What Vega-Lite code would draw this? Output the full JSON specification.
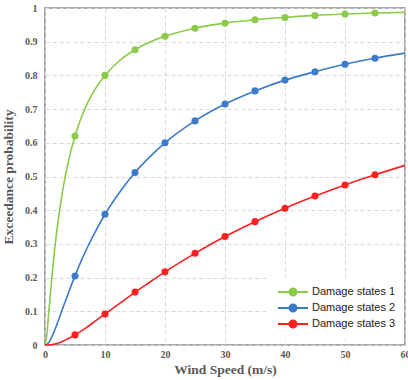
{
  "$schema": "https://vega.github.io/schema/vega-lite/v6.json",
  "width": 360,
  "height": 337,
  "autosize": {"type": "none"},
  "padding": {"left": 45, "top": 8, "right": 3, "bottom": 35},
  "background": "white",
  "config": {
    "view": {"stroke": "#8c8c8c", "strokeWidth": 1.5},
    "axis": {
      "labelFont": "Liberation Serif",
      "labelFontWeight": "bold",
      "labelColor": "#595959",
      "labelFontSize": 10,
      "titleFont": "Liberation Serif",
      "titleFontWeight": "bold",
      "titleColor": "#595959",
      "titleFontSize": 13.5,
      "grid": true,
      "gridDash": [4, 3],
      "gridColor": "#d9d9d9",
      "domain": false,
      "ticks": false
    }
  },
  "data": {
    "values": [
      {"ws": 0, "p": 0, "s": "Damage states 1"},
      {"ws": 0.25, "p": 0.022, "s": "Damage states 1"},
      {"ws": 0.5, "p": 0.07, "s": "Damage states 1"},
      {"ws": 1, "p": 0.173, "s": "Damage states 1"},
      {"ws": 1.5, "p": 0.265, "s": "Damage states 1"},
      {"ws": 2, "p": 0.343, "s": "Damage states 1"},
      {"ws": 3, "p": 0.464, "s": "Damage states 1"},
      {"ws": 4, "p": 0.553, "s": "Damage states 1"},
      {"ws": 5, "p": 0.62, "s": "Damage states 1"},
      {"ws": 6, "p": 0.673, "s": "Damage states 1"},
      {"ws": 7, "p": 0.715, "s": "Damage states 1"},
      {"ws": 8, "p": 0.749, "s": "Damage states 1"},
      {"ws": 10, "p": 0.8, "s": "Damage states 1"},
      {"ws": 12.5, "p": 0.845, "s": "Damage states 1"},
      {"ws": 15, "p": 0.876, "s": "Damage states 1"},
      {"ws": 17.5, "p": 0.899, "s": "Damage states 1"},
      {"ws": 20, "p": 0.916, "s": "Damage states 1"},
      {"ws": 25, "p": 0.94, "s": "Damage states 1"},
      {"ws": 30, "p": 0.955, "s": "Damage states 1"},
      {"ws": 35, "p": 0.965, "s": "Damage states 1"},
      {"ws": 40, "p": 0.972, "s": "Damage states 1"},
      {"ws": 45, "p": 0.978, "s": "Damage states 1"},
      {"ws": 50, "p": 0.982, "s": "Damage states 1"},
      {"ws": 55, "p": 0.985, "s": "Damage states 1"},
      {"ws": 60, "p": 0.987, "s": "Damage states 1"},
      {"ws": 0, "p": 0, "s": "Damage states 2"},
      {"ws": 0.5, "p": 0.0045, "s": "Damage states 2"},
      {"ws": 1, "p": 0.019, "s": "Damage states 2"},
      {"ws": 1.5, "p": 0.039, "s": "Damage states 2"},
      {"ws": 2, "p": 0.062, "s": "Damage states 2"},
      {"ws": 3, "p": 0.111, "s": "Damage states 2"},
      {"ws": 4, "p": 0.159, "s": "Damage states 2"},
      {"ws": 5, "p": 0.205, "s": "Damage states 2"},
      {"ws": 6, "p": 0.248, "s": "Damage states 2"},
      {"ws": 7, "p": 0.287, "s": "Damage states 2"},
      {"ws": 8, "p": 0.323, "s": "Damage states 2"},
      {"ws": 10, "p": 0.388, "s": "Damage states 2"},
      {"ws": 12.5, "p": 0.455, "s": "Damage states 2"},
      {"ws": 15, "p": 0.512, "s": "Damage states 2"},
      {"ws": 17.5, "p": 0.559, "s": "Damage states 2"},
      {"ws": 20, "p": 0.6, "s": "Damage states 2"},
      {"ws": 25, "p": 0.665, "s": "Damage states 2"},
      {"ws": 30, "p": 0.715, "s": "Damage states 2"},
      {"ws": 35, "p": 0.754, "s": "Damage states 2"},
      {"ws": 40, "p": 0.786, "s": "Damage states 2"},
      {"ws": 45, "p": 0.811, "s": "Damage states 2"},
      {"ws": 50, "p": 0.833, "s": "Damage states 2"},
      {"ws": 55, "p": 0.851, "s": "Damage states 2"},
      {"ws": 60, "p": 0.866, "s": "Damage states 2"},
      {"ws": 0, "p": 0, "s": "Damage states 3"},
      {"ws": 1, "p": 0.0008, "s": "Damage states 3"},
      {"ws": 2, "p": 0.0046, "s": "Damage states 3"},
      {"ws": 3, "p": 0.011, "s": "Damage states 3"},
      {"ws": 4, "p": 0.02, "s": "Damage states 3"},
      {"ws": 5, "p": 0.03, "s": "Damage states 3"},
      {"ws": 6, "p": 0.041, "s": "Damage states 3"},
      {"ws": 7, "p": 0.053, "s": "Damage states 3"},
      {"ws": 8, "p": 0.066, "s": "Damage states 3"},
      {"ws": 10, "p": 0.092, "s": "Damage states 3"},
      {"ws": 12.5, "p": 0.124, "s": "Damage states 3"},
      {"ws": 15, "p": 0.157, "s": "Damage states 3"},
      {"ws": 17.5, "p": 0.187, "s": "Damage states 3"},
      {"ws": 20, "p": 0.217, "s": "Damage states 3"},
      {"ws": 25, "p": 0.272, "s": "Damage states 3"},
      {"ws": 30, "p": 0.322, "s": "Damage states 3"},
      {"ws": 35, "p": 0.366, "s": "Damage states 3"},
      {"ws": 40, "p": 0.406, "s": "Damage states 3"},
      {"ws": 45, "p": 0.442, "s": "Damage states 3"},
      {"ws": 50, "p": 0.475, "s": "Damage states 3"},
      {"ws": 55, "p": 0.505, "s": "Damage states 3"},
      {"ws": 60, "p": 0.533, "s": "Damage states 3"}
    ]
  },
  "encoding": {
    "x": {
      "field": "ws", "type": "quantitative",
      "scale": {"domain": [0, 60], "nice": false},
      "axis": {"values": [0, 10, 20, 30, 40, 50, 60], "format": "d", "title": "Wind Speed (m/s)", "labelPadding": 4, "titlePadding": 3, "labelFlush": false}
    },
    "y": {
      "field": "p", "type": "quantitative",
      "scale": {"domain": [0, 1], "nice": false},
      "axis": {"values": [0, 0.1, 0.2, 0.3, 0.4, 0.5, 0.6, 0.7, 0.8, 0.9, 1], "format": "~g", "title": "Exceedance probability", "labelPadding": 8, "titlePadding": 9, "labelFlush": false}
    },
    "color": {
      "field": "s", "type": "nominal",
      "scale": {"domain": ["Damage states 1", "Damage states 2", "Damage states 3"], "range": ["#8CCB4A", "#3C7ACB", "#FF1F1F"]},
      "legend": {
        "title": null,
        "orient": "none",
        "legendX": 223,
        "legendY": 270,
        "fillColor": "white",
        "padding": 8,
        "labelFont": "Liberation Sans",
        "labelFontSize": 11,
        "labelColor": "#222222",
        "labelOffset": 13,
        "rowPadding": 0,
        "symbolOffset": 11,
        "symbolType": "M-3,0L3,0M-0.7,0A0.7,0.7,0,1,1,0.7,0A0.7,0.7,0,1,1,-0.7,0Z",
        "symbolSize": 100,
        "symbolStrokeWidth": 2,
        "encode": {
          "symbols": {
            "update": {
              "fill": {"scale": "color", "field": "value"},
              "stroke": {"scale": "color", "field": "value"},
              "opacity": {"value": 1}
            }
          }
        }
      }
    }
  },
  "layer": [
    {
      "mark": {"type": "line", "interpolate": "monotone", "strokeWidth": 1.6}
    },
    {
      "transform": [{"filter": "datum.ws >= 5 && datum.ws <= 55 && datum.ws % 5 == 0"}],
      "mark": {"type": "point", "filled": true, "size": 50, "opacity": 1}
    }
  ]
}
